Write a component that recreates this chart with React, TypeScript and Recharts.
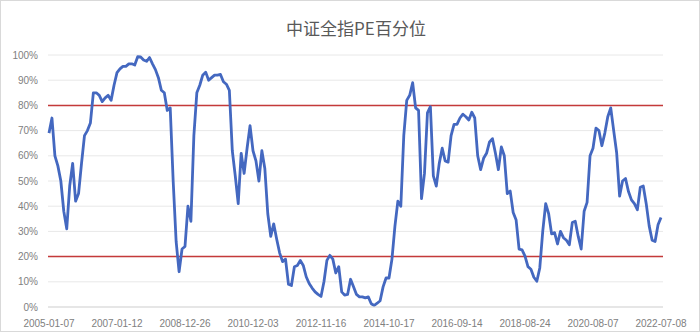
import { LineChart, Line, XAxis, YAxis, CartesianGrid, ReferenceLine } from 'recharts';

// x-axis dates shown under the chart (weekly data, one label every 23 points)
const tickLabels = [
  '2005-01-07',
  '2007-01-12',
  '2008-12-26',
  '2010-12-03',
  '2012-11-16',
  '2014-10-17',
  '2016-09-14',
  '2018-08-24',
  '2020-08-07',
  '2022-07-08'
];
const pointsPerLabel = 23;

// PE percentile of the CSI All Share index, in %
const pePercentile = [
  69, 75, 60, 56, 50, 38, 31, 48, 57, 42, 45, 57, 68, 70, 73, 85, 85, 84, 81.5, 83,
  84, 82, 88, 93, 94.5, 95.5, 95.5, 96.5, 96.5, 96, 99.3, 99.2, 98, 97.5, 99, 96.5, 94.2, 91, 86, 85,
  78, 79, 50, 26, 14, 23, 24, 40, 34, 68, 85, 88, 92, 93.2, 90, 91, 92, 92, 92.3, 89.4,
  88.4, 86, 62, 52, 41, 61, 53, 63, 72, 62, 58, 50, 62, 55, 37, 28, 33, 27, 21.5, 18,
  19, 9, 8.5, 16, 16.5, 18.5, 16.5, 12, 9.3, 7.5, 6, 5, 4.2, 10, 18.5, 20.5, 19, 13.5, 16, 6,
  4.7, 5, 11, 8, 5, 4, 4, 3.6, 4, 1.3, 0.6, 1.5, 2.5, 8, 11.5, 11.5, 19, 32, 42, 40,
  68, 82, 84, 89, 79, 78, 43, 53, 77, 79.5, 52, 48, 57, 63, 58, 57.5, 68, 72.5, 72.5, 75,
  76.5, 75.5, 74.2, 77.3, 75, 60, 54.5, 59, 61, 65.5, 66.8, 61, 54.5, 63.5, 60, 45, 46, 37.5, 34.5, 23,
  22.7, 20.2, 16, 15, 11.8, 10.2, 15.5, 30, 41, 37, 29, 29.5, 25, 30, 27.5, 26.5, 24.7, 33.5, 34, 28,
  23, 38, 41.5, 60, 63, 71, 70, 64, 69, 75.5, 79, 70, 61.2, 44, 50, 51, 45.8, 42.5, 41, 38.6,
  47.5, 48, 41, 32.2, 26.5, 26, 32.6, 35.5
];

const yTicks = [0, 10, 20, 30, 40, 50, 60, 70, 80, 90, 100];
const upperBand = 80;
const lowerBand = 20;

const data = pePercentile.map((v, i) => ({ i, v }));
const xTicks = tickLabels.map((_, k) => k * pointsPerLabel);

const tickStyle = { fontFamily: '"Liberation Sans", Arial, sans-serif', fontSize: 10, fill: '#808080' };

export default function App() {
  return (
    <div
      style={{
        position: 'absolute',
        left: 0,
        top: 0,
        width: 700,
        height: 332,
        background: '#fff',
        border: '1px solid #d9d9d9',
        boxSizing: 'border-box'
      }}
    >
      <div
        style={{
          position: 'absolute',
          left: 0,
          top: 16,
          width: 710,
          textAlign: 'center',
          fontFamily: '"Noto Sans CJK SC", sans-serif',
          fontSize: 17,
          lineHeight: '22px',
          color: '#595959'
        }}
      >
        中证全指PE百分位
      </div>
      <div style={{ position: 'absolute', left: -1, top: -1 }}>
        <LineChart width={700} height={332} data={data} margin={{ top: 55, right: 37, bottom: 0, left: 0 }}>
          <CartesianGrid vertical={false} stroke="#e8e8e8" />
          <XAxis
            type="number"
            dataKey="i"
            domain={[0, pePercentile.length - 1]}
            ticks={xTicks}
            interval={0}
            tickFormatter={(i) => tickLabels[Math.round(i / pointsPerLabel)]}
            tickLine={false}
            axisLine={{ stroke: '#d9d9d9' }}
            tick={tickStyle}
            tickMargin={7}
            height={25}
            padding={{ left: 1, right: 2 }}
          />
          <YAxis
            domain={[0, 100]}
            ticks={yTicks}
            interval={0}
            tickFormatter={(v) => `${v}%`}
            tickLine={false}
            axisLine={false}
            tick={tickStyle}
            tickMargin={4}
            width={48}
          />
          <ReferenceLine y={upperBand} stroke="#c43a3a" strokeWidth={1.5} />
          <ReferenceLine y={lowerBand} stroke="#c43a3a" strokeWidth={1.5} />
          <Line
            type="linear"
            dataKey="v"
            stroke="#4468c0"
            strokeWidth={2.8}
            strokeLinejoin="round"
            dot={false}
            activeDot={false}
            isAnimationActive={false}
          />
        </LineChart>
      </div>
    </div>
  );
}
